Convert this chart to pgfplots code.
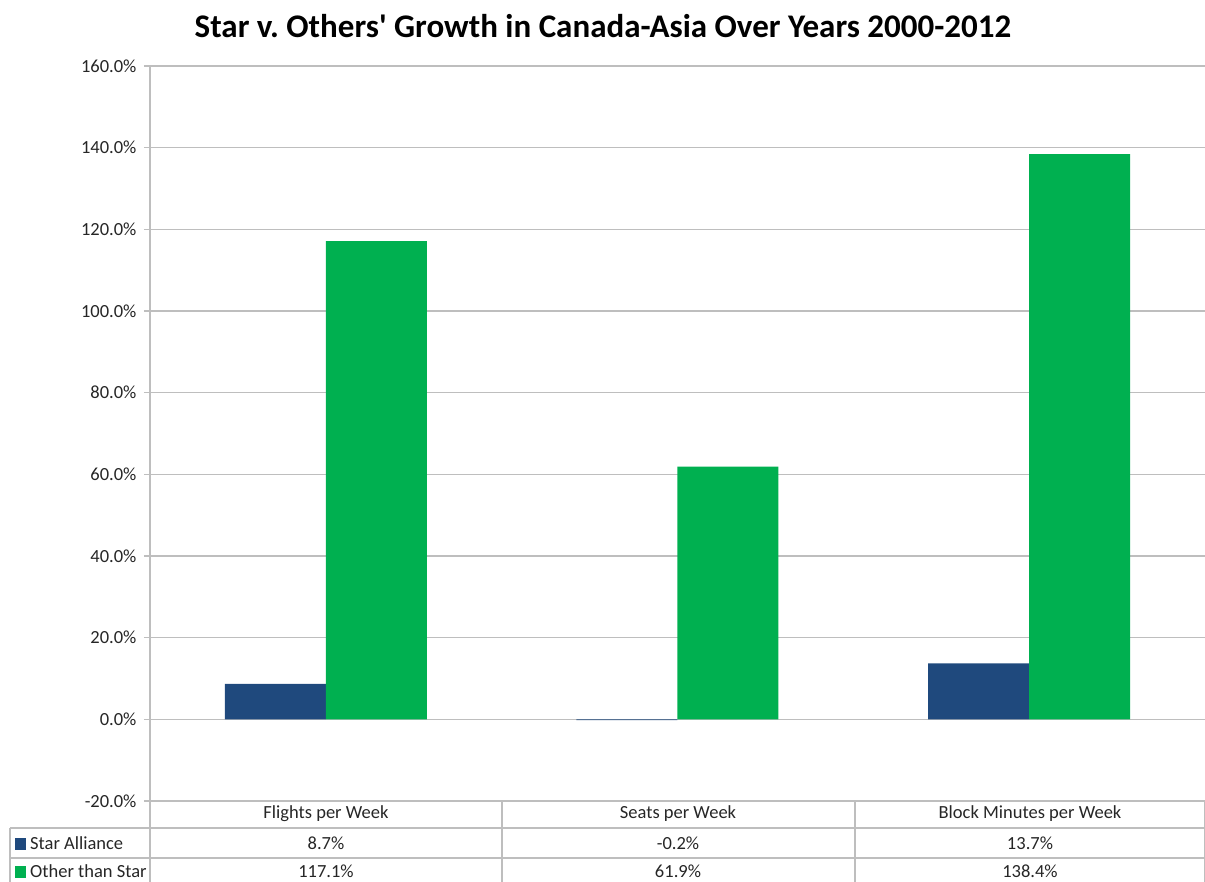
\documentclass[border=0pt]{standalone}
\usepackage{fontspec}
\setmainfont{Carlito}[Ligatures=TeXOff]
\usepackage{pgfplots}
\pgfplotsset{compat=1.18}
\definecolor{starblue}{HTML}{1F497D}
\definecolor{othergreen}{HTML}{00B050}
\definecolor{gridgray}{HTML}{BEBEBE}
\definecolor{txt}{HTML}{262626}
\begin{document}
\begin{tikzpicture}[x=1pt,y=1pt]
\useasboundingbox (-150,-81) rectangle (1055,801);
\begin{axis}[
  at={(0,0)}, anchor=south west,
  scale only axis, width=1055pt, height=735pt,
  xmin=-0.5, xmax=2.5, ymin=-20, ymax=160,
  ybar=0pt, bar width=101pt,
  axis x line=none,
  axis y line*=left,
  y axis line style={gridgray, line width=1.3pt},
  ytick={-20,0,20,40,60,80,100,120,140,160},
  ymajorgrids, grid style={gridgray, line width=1.3pt},
  ytick style={gridgray, line width=1.3pt},
  major tick length=6pt, tick align=outside,
  yticklabel style={font=\fontsize{18.5}{21}\selectfont, text=txt, xshift=-4pt},
  /pgf/number format/assume math mode=true,
  yticklabel={\pgfmathprintnumber[fixed,fixed zerofill,precision=1]{\tick}\%},
  clip=false,
]
\addplot[fill=starblue, draw=none] coordinates {(0,8.7) (1,-0.2) (2,13.7)};
\addplot[fill=othergreen, draw=none] coordinates {(0,117.1) (1,61.9) (2,138.4)};
\end{axis}
% title
\node[font=\fontsize{33}{38}\selectfont\bfseries, text=black] at (453,775) {Star v.\ Others' Growth in Canada-Asia Over Years 2000-2012};
% data table
\begin{scope}[gridgray, line width=1.3pt]
\draw (-140,-27) -- (1055,-27);
\draw (-140,-57) -- (1055,-57);
\draw (-140,-27) -- (-140,-81);
\draw (0,0) -- (0,-81);
\draw (352,0) -- (352,-81);
\draw (705,0) -- (705,-81);
\draw (1054.3,0) -- (1054.3,-81);
\end{scope}
\begin{scope}[every node/.style={font=\fontsize{18.5}{21}\selectfont, text=txt}]
\node at (176,-13) {Flights per Week};
\node at (528,-13) {Seats per Week};
\node at (880,-13) {Block Minutes per Week};
\node at (176,-42) {8.7\%};
\node at (528,-42) {-0.2\%};
\node at (880,-42) {13.7\%};
\node at (176,-70) {117.1\%};
\node at (528,-70) {61.9\%};
\node at (880,-70) {138.4\%};
\node[anchor=west, inner sep=0pt] at (-120,-42) {Star Alliance};
\node[anchor=west, inner sep=0pt] at (-120,-70) {Other than Star};
\end{scope}
\fill[starblue] (-135,-49) rectangle (-124,-37);
\fill[othergreen] (-135,-77) rectangle (-124,-65);
\end{tikzpicture}
\end{document}
